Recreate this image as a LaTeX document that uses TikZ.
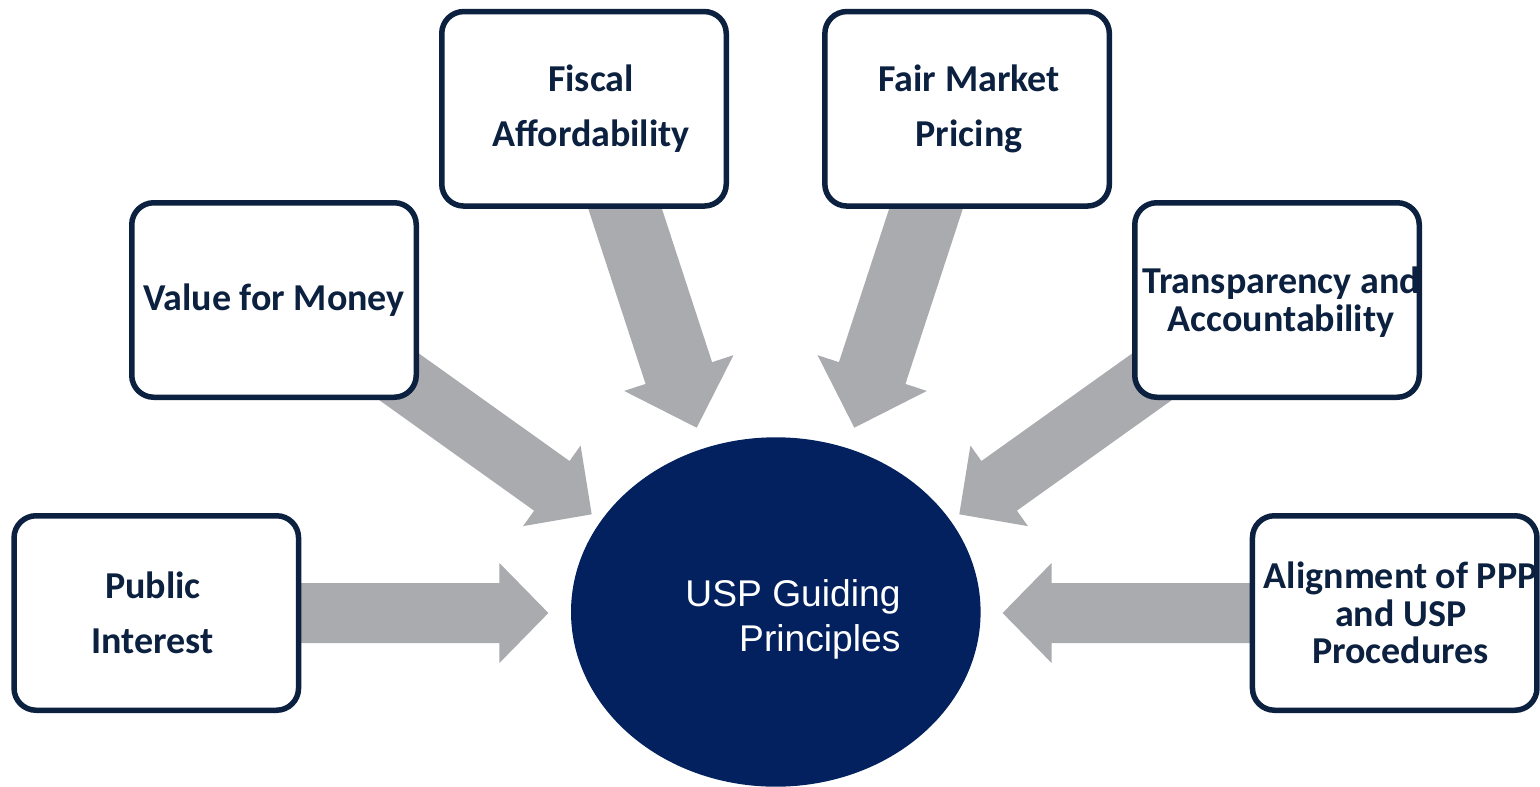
\documentclass[tikz,border=0pt]{standalone}
\usepackage{fontspec}
\setmainfont{Carlito}
\newfontfamily\uspsans{Liberation Sans}
\usetikzlibrary{calc,shapes.geometric,backgrounds}
\definecolor{navy}{RGB}{12,33,64}
\definecolor{ellblue}{RGB}{3,33,94}
\definecolor{arrgray}{RGB}{170,171,175}
% start, tip, shaft half width, head half width, head length
\newcommand\blockarr[5]{%
  \path ($(#2)!#5!(#1)$) coordinate (ba-h);
  \fill[arrgray] ($(#1)!#3!90:(#2)$) -- ($(ba-h)!#3!90:(#2)$) -- ($(ba-h)!#4!90:(#2)$) -- (#2)
    -- ($(ba-h)!#4!-90:(#2)$) -- ($(ba-h)!#3!-90:(#2)$) -- ($(#1)!#3!-90:(#2)$) -- cycle;
}
\tikzset{
  pbox/.style={draw=navy, line width=5.5pt, fill=white, rounded corners=22pt,
    minimum width=284.5pt, minimum height=194.5pt, inner sep=0pt},
  ptext/.style={align=center, inner sep=0pt, text=navy,
    font=\bfseries\fontsize{38}{55}\selectfont},
}
\begin{document}
\begin{tikzpicture}[x=1pt,y=-1pt]
\useasboundingbox (0,0) rectangle (1540,787);
% boxes
\node[pbox] (pub)  at (156.3,613)   {};
\node[pbox] (vfm)  at (274,300)     {};
\node[pbox] (fis)  at (584,108.8)   {};
\node[pbox] (fair) at (967.1,108.8) {};
\node[pbox] (tr)   at (1277,300)    {};
\node[pbox] (al)   at (1394.7,613)  {};
% box texts
\node[ptext] (pubtxt)  at ($(pub.center)+(-3.5,0)$) {Public\\Interest};
\node[ptext] (vfmtxt)  at (vfm.center) {Value for Money};
\node[ptext] (fistxt)  at ($(fis.center)+(7,0)$) {Fiscal\\Affordability};
\node[ptext] (fairtxt) at ($(fair.center)+(2,0)$) {Fair Market\\Pricing};
\node[ptext, font=\bfseries\fontsize{38}{38.3}\selectfont] (trtxt) at ($(tr.center)+(4,2)$) {Transparency and\\Accountability};
\node[ptext, font=\bfseries\fontsize{38}{37.5}\selectfont] (altxt) at ($(al.center)+(6,0)$) {Alignment of PPP\\and USP\\Procedures};
% centre
\node[ellipse, fill=ellblue, minimum width=409.6pt, minimum height=349.4pt, inner sep=0pt] (usp) at (775.8,612) {};
\node[anchor=east, align=right, inner sep=0pt, text=white, font=\uspsans\fontsize{37.2}{45}\selectfont] (usptxt) at (900.7,619) {USP Guiding\\Principles};
% arrow starts and tips
\coordinate (vfmS)  at ($(vfm.center)+(0,-12.5)$);
\coordinate (trS)   at ($(tr.center)+(0,-12.5)$);
\coordinate (fisS)  at ($(fis.center)+(8.4,0)$);
\coordinate (fairS) at ($(fair.center)+(-8.4,0)$);
\coordinate (pubT)  at (548.4,613);
\coordinate (alT)   at (1002.6,613);
\coordinate (vfmT)  at (591.7,514.3);
\coordinate (trT)   at (959.3,514.3);
\coordinate (fisT)  at (696.7,427.7);
\coordinate (fairT) at (854.3,427.7);
\begin{scope}[on background layer]
  \blockarr{pub.center}{pubT}{30pt}{50pt}{49pt}
  \blockarr{al.center}{alT}{30pt}{50pt}{49pt}
  \blockarr{vfmS}{vfmT}{30.5pt}{49.5pt}{49pt}
  \blockarr{trS}{trT}{30.5pt}{49.5pt}{49pt}
  \blockarr{fisS}{fisT}{35pt}{57.5pt}{57.5pt}
  \blockarr{fairS}{fairT}{35pt}{57.5pt}{57.5pt}
\end{scope}
\end{tikzpicture}
\end{document}
